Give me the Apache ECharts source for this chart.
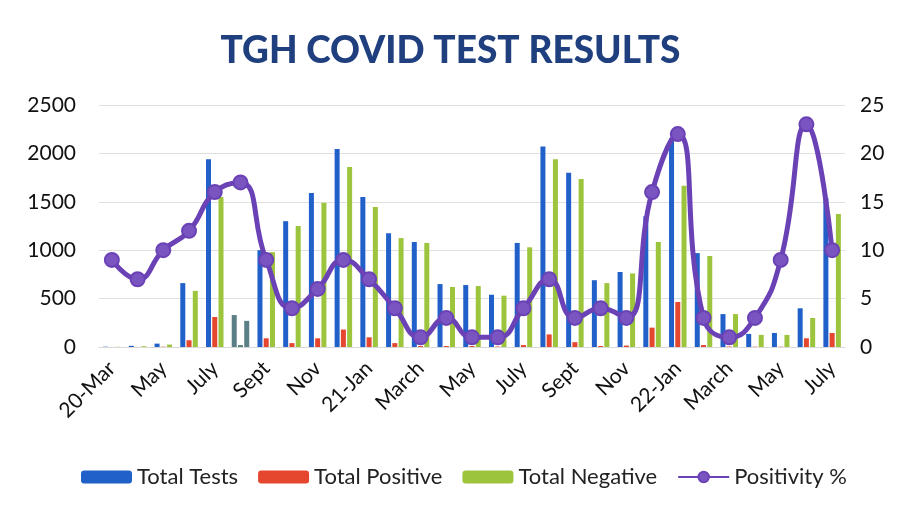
<!DOCTYPE html>
<html>
<head>
<meta charset="utf-8">
<script src="https://cdn.jsdelivr.net/npm/echarts@6/dist/echarts.min.js"></script>
<style>html,body{margin:0;padding:0;background:#fff}#c{width:901px;height:514px}</style>
</head>
<body>
<div id="c"></div>
<script>
const categories = ['20-Mar','Apr','May','Jun','July','Aug','Sept','Oct','Nov','Dec',
  '21-Jan','Feb','March','Apr','May','Jun','July','Aug','Sept','Oct','Nov','Dec',
  '22-Jan','Feb','March','Apr','May','Jun','July'];
const totalTests =    [3, 12, 35, 660, 1940, 330, 1000, 1300, 1590, 2045, 1550, 1175, 1085, 650, 640, 540, 1075, 2070, 1800, 690, 775, 1350, 2160, 970, 340, 135, 145, 400, 1540];
const totalPositive = [0, 1, 3, 70, 310, 20, 90, 40, 90, 180, 100, 40, 10, 10, 10, 5, 20, 130, 50, 10, 15, 200, 465, 20, 5, 3, 3, 90, 145];
const totalNegative = [2, 8, 25, 580, 1550, 270, 980, 1250, 1490, 1860, 1445, 1125, 1075, 620, 630, 530, 1030, 1940, 1735, 660, 760, 1085, 1665, 940, 340, 125, 125, 300, 1375];
const positivity =    [9, 7, 10, 12, 16, 17, 9, 4, 6, 9, 7, 4, 1, 3, 1, 1, 4, 7, 3, 4, 3, 16, 22, 3, 1, 3, 9, 23, 10];
const greyIndex = 5;

const blue = '#2160c8', red = '#e5462e', green = '#9cc43c', purple = '#6b42b5', grey = '#5b7f86';
function withGrey(arr){
  return arr.map((v,i)=> i===greyIndex ? {value:v, itemStyle:{color:grey}} : v);
}
const font = 'Lato, "Open Sans", sans-serif';
const chart = echarts.init(document.getElementById('c'));
chart.setOption({
  animation:false,
  backgroundColor:'#fff',
  title:{text:'TGH COVID TEST RESULTS', left:'center', top:28,
    textStyle:{fontFamily:font, fontWeight:'900', fontSize:37, color:'#1f3f7f'}},
  legend:{top:461, left:76, itemWidth:51, itemHeight:13, itemGap:20,
    textStyle:{fontFamily:font, fontSize:22, color:'#222'},
    data:['Total Tests','Total Positive','Total Negative','Positivity %']},
  grid:{left:99, right:56, top:105, bottom:167},
  xAxis:{type:'category', data:categories,
    axisLine:{show:true, lineStyle:{color:'#d9d9d9'}}, axisTick:{show:false},
    axisLabel:{interval:1, rotate:45, fontFamily:font, fontSize:21, color:'#111', margin:18}},
  yAxis:[
    {type:'value', min:0, max:2500, interval:500,
      axisLabel:{fontFamily:font, fontSize:21, color:'#111', margin:23, formatter:v=>String(v)},
      splitLine:{lineStyle:{color:'#e0e0e0'}}},
    {type:'value', min:0, max:25, interval:5,
      axisLabel:{fontFamily:font, fontSize:21, color:'#111', margin:15, formatter:v=>String(v)},
      splitLine:{show:false}}
  ],
  series:[
    {name:'Total Tests', type:'bar', data:withGrey(totalTests), barWidth:5, barGap:'25%', itemStyle:{color:blue}},
    {name:'Total Positive', type:'bar', data:withGrey(totalPositive), barWidth:5, barGap:'25%', itemStyle:{color:red}},
    {name:'Total Negative', type:'bar', data:withGrey(totalNegative), barWidth:5, barGap:'25%', itemStyle:{color:green}},
    {name:'Positivity %', type:'line', yAxisIndex:1, data:positivity, smooth:0.5,
      symbol:'circle', symbolSize:14, lineStyle:{width:5, color:purple},
      itemStyle:{color:'#7a55c2', borderColor:purple, borderWidth:2}}
  ]
});
</script>
</body>
</html>
